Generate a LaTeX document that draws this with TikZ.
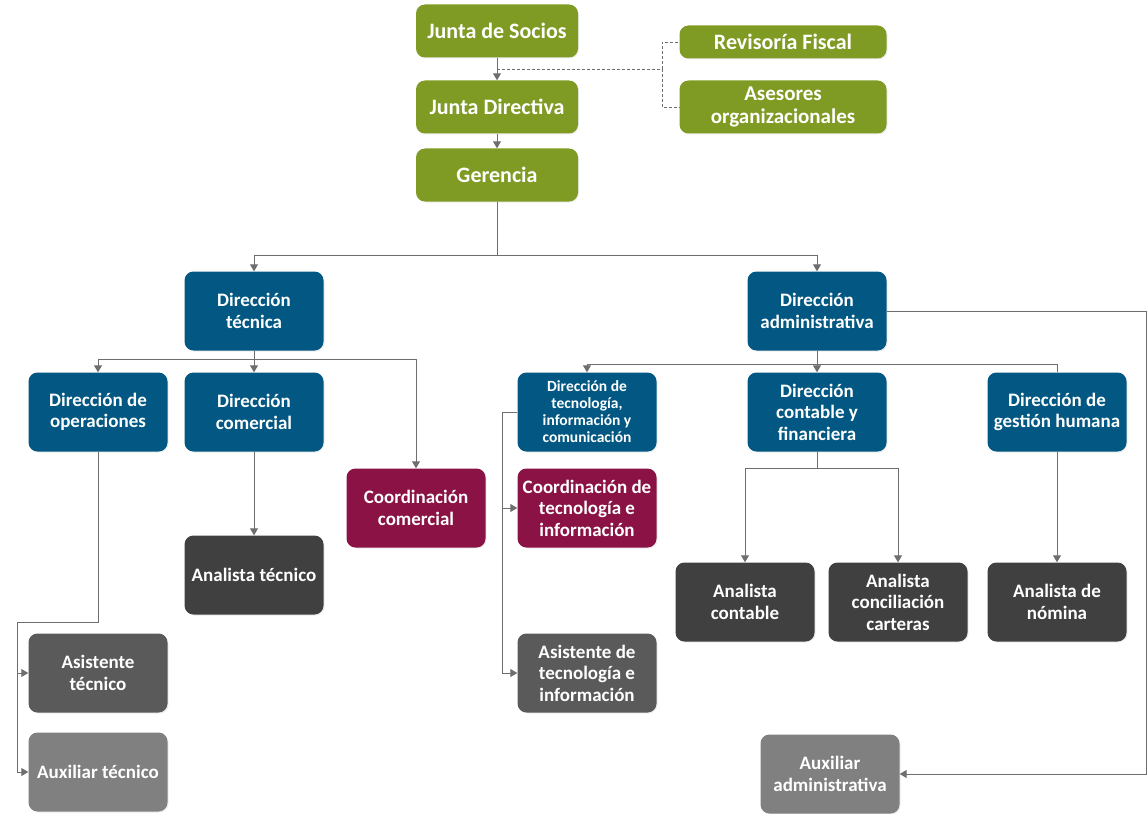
\documentclass[tikz,border=0pt]{standalone}
\usepackage{fontspec}
\setmainfont{Carlito}
\usetikzlibrary{arrows.meta,positioning,shadows}

\definecolor{verde}{RGB}{128,155,35}
\definecolor{azul}{RGB}{2,88,130}
\definecolor{vino}{RGB}{138,18,68}
\definecolor{grisosc}{RGB}{64,64,64}
\definecolor{grismed}{RGB}{90,90,90}
\definecolor{grisclaro}{RGB}{128,128,128}
\definecolor{gris}{RGB}{110,110,110}

\tikzset{
	caja/.style={rounded corners=9pt, text=white, align=center, inner sep=2pt,
		minimum width=139pt, minimum height=79pt,
		font=\bfseries\fontsize{19}{21.5}\selectfont,
		drop shadow={opacity=0.15, shadow xshift=1pt, shadow yshift=-1pt}},
	junta/.style={caja, fill=verde, minimum width=162pt, minimum height=53pt,
		font=\bfseries\fontsize{22}{23}\selectfont},
	asesor/.style={junta, minimum width=207pt},
	direccion/.style={caja, fill=azul},
	coordina/.style={caja, fill=vino},
	analista/.style={caja, fill=grisosc},
	asistente/.style={caja, fill=grismed},
	auxiliar/.style={caja, fill=grisclaro},
	tramo/.style={draw=gris, line width=1pt},
	conector/.style={tramo, -{Triangle[width=8pt,length=7pt]}},
	punteado/.style={draw=gris, line width=0.8pt, densely dashed},
}

\begin{document}
\begin{tikzpicture}[x=1pt, y=-1pt]
	\useasboundingbox (0,0) rectangle (1147,813);

	% consejo
	\node[junta] (jsoc) at (497,31) {Junta de Socios};
	\node[junta] (jdir) at (497,107) {Junta Directiva};
	\node[junta] (ger) at (497,175) {Gerencia};
	\node[asesor, minimum height=33pt] (rev) at (783,42) {Revisoría Fiscal};
	\node[asesor, font=\bfseries\fontsize{21}{23}\selectfont] (ases) at (783,107) {Asesores\\organizacionales};

	% direcciones
	\node[direccion] (dtec) at (254,311) {Dirección\\técnica};
	\node[direccion] (dadm) at (817,311) {Dirección\\administrativa};
	\node[direccion] (dop) at (98,412) {Dirección de\\operaciones};
	\node[direccion] (dcom) at (254,412) {Dirección\\comercial};
	\node[direccion, font=\bfseries\fontsize{15.5}{17}\selectfont] (dtic) at (587,412) {Dirección de\\tecnología,\\información y\\comunicación};
	\node[direccion] (dcf) at (817,412) {Dirección\\contable y\\financiera};
	\node[direccion] (dgh) at (1057,412) {Dirección de\\gestión humana};

	% cargos
	\node[coordina] (ccom) at (416,508) {Coordinación\\comercial};
	\node[coordina] (ctic) at (587,508) {Coordinación de\\tecnología e\\información};
	\node[analista] (atec) at (254,575) {Analista técnico};
	\node[analista] (acont) at (745,602) {Analista\\contable};
	\node[analista] (acart) at (898,602) {Analista\\conciliación\\carteras};
	\node[analista] (anom) at (1057,602) {Analista de\\nómina};
	\node[asistente] (asist) at (98,673) {Asistente\\técnico};
	\node[asistente] (atic) at (587,673) {Asistente de\\tecnología e\\información};
	\node[auxiliar] (auxt) at (98,772) {Auxiliar técnico};
	\node[auxiliar] (auxa) at (830,774) {Auxiliar\\administrativa};

	% puntos de giro
	\path (jsoc.south) -- (jdir.north) coordinate[midway] (s1);
	\coordinate (d1) at (662,69);
	\coordinate (g1) at (497,255);
	\coordinate (t1) at (254,359);
	\coordinate (o1) at (17,622);
	\coordinate (a1) at (817,364);
	\coordinate (a2) at (1146,311);
	\coordinate (i1) at (502,412);
	\coordinate (c1) at (817,468);

	\draw[conector] (jsoc) -- (jdir);
	\draw[conector] (jdir) -- (ger);
	\draw[punteado] (s1) -- (d1);
	\draw[punteado] (d1) |- (rev.west);
	\draw[punteado] (d1) |- (ases.west);

	\draw[tramo] (ger.south) -- (g1);
	\draw[conector] (g1) -| (dtec.north);
	\draw[conector] (g1) -| (dadm.north);

	\draw[conector] (dtec.south) -- (dcom.north);
	\draw[conector] (t1) -| (dop.north);
	\draw[conector] (t1) -| (ccom.north);
	\draw[conector] (dcom.south) -- (atec.north);
	\draw[tramo] (dop.south) |- (o1);
	\draw[conector] (o1) |- (asist.west);
	\draw[conector] (o1) |- (auxt.west);

	\draw[conector] (dadm.south) -- (dcf.north);
	\draw[conector] (a1) -| (dtic.north);
	\draw[tramo] (a1) -| (dgh.north);
	\draw[tramo] (dadm.east) -- (a2);
	\draw[conector] (a2) |- (auxa.east);
	\draw[tramo] (dtic.west) -- (i1);
	\draw[conector] (i1) |- (ctic.west);
	\draw[conector] (i1) |- (atic.west);
	\draw[tramo] (dcf.south) -- (c1);
	\draw[conector] (c1) -| (acont.north);
	\draw[conector] (c1) -| (acart.north);
	\draw[conector] (dgh.south) -- (anom.north);
\end{tikzpicture}
\end{document}
